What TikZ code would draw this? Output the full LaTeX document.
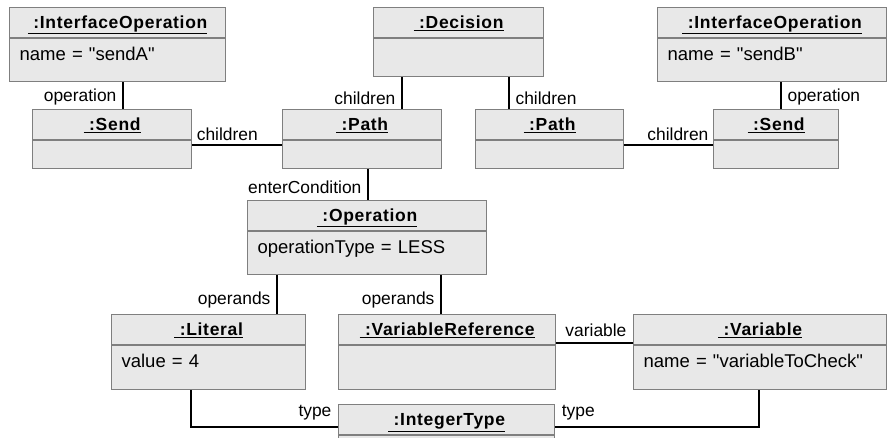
\documentclass[tikz,border=0pt]{standalone}
\usepackage{fontspec}
\setmainfont{Liberation Sans}
\newfontface\headfont{Liberation Sans Bold}[LetterSpace=4]
\usetikzlibrary{positioning}

\definecolor{boxfill}{HTML}{E8E8E8}
\definecolor{boxline}{HTML}{7F7F7F}

\begin{document}
\begin{tikzpicture}[x=1pt,y=-1pt,font=\fontsize{17.4}{20}\selectfont,
    objhead/.style={draw=boxline,fill=boxfill,line width=1.2pt,anchor=north west,minimum width=#1,minimum height=30pt,inner sep=0pt,text height=14pt,text depth=2pt,font=\fontsize{17.5}{20}\headfont},
    objbody/.style 2 args={draw=boxline,fill=boxfill,line width=1.2pt,anchor=north west,text width=#1,minimum height=#2,inner xsep=10pt,inner ysep=0pt,align=left,text height=13pt,text depth=13pt,font=\fontsize{18.5}{22}\selectfont},
    link/.style={draw=black,line width=1.2pt},
    role/.style={inner sep=2pt}]

    \useasboundingbox (0,0) rectangle (887,438);
    \clip (0,0) rectangle (887,438);

    % top row
    \node[objhead=216pt] (iopAh) at (9,7) {\underline{~:InterfaceOperation}};
    \node[objbody={196pt}{43pt}] (iopAb) at (iopAh.south west) {name = \textquotedbl sendA\textquotedbl};
    \node[objhead=170pt] (dech) at (373,7) {\underline{~:Decision}};
    \node[objbody={150pt}{38pt}] (decb) at (dech.south west) {};
    \node[objhead=229pt] (iopBh) at (657,7) {\underline{~:InterfaceOperation}};
    \node[objbody={209pt}{43pt}] (iopBb) at (iopBh.south west) {name = \textquotedbl sendB\textquotedbl};

    % second row
    \node[objhead=159pt] (sendAh) at (32,109) {\underline{~:Send}};
    \node[objbody={139pt}{28pt}] (sendAb) at (sendAh.south west) {};
    \node[objhead=159pt] (pathAh) at (282,109) {\underline{~:Path}};
    \node[objbody={139pt}{28pt}] (pathAb) at (pathAh.south west) {};
    \node[objhead=148pt] (pathBh) at (475,109) {\underline{~:Path}};
    \node[objbody={128pt}{28pt}] (pathBb) at (pathBh.south west) {};
    \node[objhead=125pt] (sendBh) at (713,109) {\underline{~:Send}};
    \node[objbody={105pt}{28pt}] (sendBb) at (sendBh.south west) {};

    % condition
    \node[objhead=239pt] (oph) at (247,200) {\underline{~:Operation}};
    \node[objbody={219pt}{43pt}] (opb) at (oph.south west) {operationType = LESS};

    \node[objhead=194pt] (lith) at (111,314) {\underline{~:Literal}};
    \node[objbody={174pt}{44pt}] (litb) at (lith.south west) {value = 4};
    \node[objhead=217pt] (vrefh) at (338,314) {\underline{~:VariableReference}};
    \node[objbody={197pt}{44pt}] (vrefb) at (vrefh.south west) {};
    \node[objhead=253pt] (varh) at (633,314) {\underline{~:Variable}};
    \node[objbody={233pt}{44pt}] (varb) at (varh.south west) {name = \textquotedbl variableToCheck\textquotedbl};

    \node[objhead=216pt] (inth) at (338,404) {\underline{~:IntegerType}};
    \node[objbody={196pt}{30pt}] (intb) at (inth.south west) {};

    % links
    \path[link]
    (iopAb.south -| 123,0) edge node[role,pos=0.55,left=4pt] {operation} (sendAh.north -| 123,0)
    (decb.south -| 402,0) edge node[role,pos=0.65,left=4pt] {children} (pathAh.north -| 402,0)
    (decb.south -| 509,0) edge node[role,pos=0.65,right=4pt] {children} (pathBh.north -| 509,0)
    (iopBb.south -| 781,0) edge node[role,pos=0.55,right=4pt] {operation} (sendBh.north -| 781,0)
    (sendAb.east |- 0,145) edge node[pos=0,anchor=south west,inner sep=4pt] {children} (pathAb.west |- 0,145)
    (pathBb.east |- 0,145) edge node[pos=1,anchor=south east,inner sep=4pt] {children} (sendBb.west |- 0,145)
    (pathAb.south -| 368,0) edge node[role,pos=0.6,left=4pt] {enterCondition} (oph.north -| 368,0)
    (opb.south -| 277,0) edge node[role,pos=0.65,left=4pt] {operands} (lith.north -| 277,0)
    (opb.south -| 441,0) edge node[role,pos=0.65,left=4pt] {operands} (vrefh.north -| 441,0)
    (vrefb.east |- 0,343) edge node[pos=1,anchor=south east,inner sep=6pt] {variable} (varb.west |- 0,343);

    \draw[link] (litb.south -| 191,0) |- (inth.west |- 0,427) node[anchor=south east,inner sep=6pt] {type};
    \draw[link] (varb.south -| 759,0) |- (inth.east |- 0,427) node[anchor=south west,inner sep=6pt] {type};
\end{tikzpicture}
\end{document}
